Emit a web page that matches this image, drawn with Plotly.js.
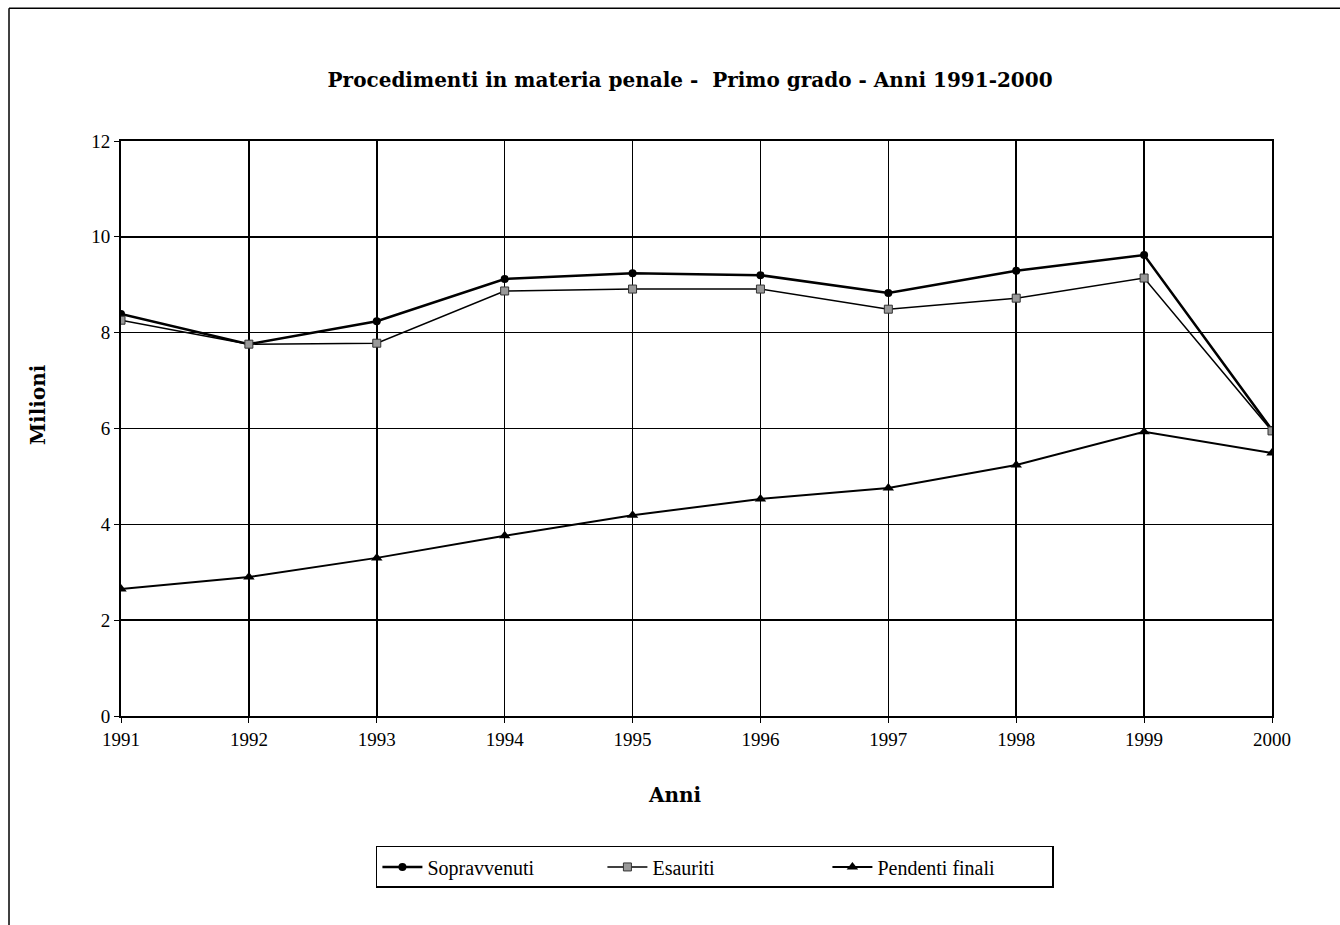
<!DOCTYPE html>
<html>
<head>
<meta charset="utf-8">
<script src="https://cdn.plot.ly/plotly-3.0.1.min.js"></script>
<style>html,body{margin:0;padding:0;background:#fff;}#chart{width:1340px;height:925px;}</style>
</head>
<body>
<div id="chart"></div>
<script>
const anni = [1991, 1992, 1993, 1994, 1995, 1996, 1997, 1998, 1999, 2000];
const sopravvenuti = [8.39, 7.76, 8.24, 9.12, 9.24, 9.20, 8.83, 9.29, 9.62, 5.97];
const esauriti = [8.26, 7.76, 7.78, 8.87, 8.91, 8.91, 8.49, 8.72, 9.14, 5.95];
const pendentiFinali = [2.65, 2.90, 3.30, 3.76, 4.19, 4.53, 4.76, 5.24, 5.93, 5.49];
const yTicks = [0, 2, 4, 6, 8, 10, 12];

const font = 'Liberation Serif, Times New Roman, serif';
const tfont = 'DejaVu Serif, serif';
const traces = [
  {x: anni, y: sopravvenuti, name: 'Sopravvenuti', mode: 'lines+markers',
   line: {color: '#000', width: 2.5}, marker: {symbol: 'circle', size: 8, color: '#000'}},
  {x: anni, y: esauriti, name: 'Esauriti', mode: 'lines+markers',
   line: {color: '#000', width: 1.5}, marker: {symbol: 'square', size: 8, color: '#999', line: {color: '#333', width: 1}}},
  {x: anni, y: pendentiFinali, name: 'Pendenti finali', mode: 'lines+markers',
   line: {color: '#000', width: 2}, marker: {symbol: 'triangle-up', size: 10, color: '#000'}}
];

const layout = {
  width: 1340, height: 925,
  paper_bgcolor: '#fff', plot_bgcolor: '#fff',
  margin: {l: 121, r: 68, t: 141, b: 209},
  font: {family: font, color: '#000', size: 19},
  title: {text: '<b>Procedimenti in materia penale -  Primo grado - Anni 1991-2000</b>',
          font: {family: tfont, size: 20, color: '#000'}, x: 0.515, xanchor: 'center', y: 0.913, yanchor: 'middle'},
  xaxis: {range: [1991, 2000], tickvals: anni, ticktext: anni.map(String),
          showgrid: true, gridcolor: '#000', gridwidth: 1.5, zeroline: false,
          showline: true, linecolor: '#000', linewidth: 2, mirror: true,
          ticks: 'outside', ticklen: 5, tickcolor: '#000',
          tickfont: {family: font, size: 19}},
  yaxis: {range: [0, 12], tickvals: yTicks, ticktext: yTicks.map(String),
          showgrid: true, gridcolor: '#000', gridwidth: 1.5, zeroline: false,
          showline: true, linecolor: '#000', linewidth: 2, mirror: true,
          ticks: 'outside', ticklen: 5, tickcolor: '#000',
          tickfont: {family: font, size: 19}},
  annotations: [
    {text: '<b>Anni</b>', xref: 'paper', yref: 'paper', x: 0.481, y: -0.138, xanchor: 'center', yanchor: 'middle',
     showarrow: false, font: {family: tfont, size: 20}},
    {text: '<b>Milioni</b>', xref: 'paper', yref: 'paper', x: -0.072, y: 0.541, xanchor: 'center', yanchor: 'middle',
     textangle: -90, showarrow: false, font: {family: tfont, size: 20}}
  ],
  legend: {orientation: 'h', x: 0.516, xanchor: 'center', y: -0.226, yanchor: 'top',
           bordercolor: '#000', borderwidth: 1.5, font: {family: font, size: 20},
           entrywidth: 170, itemwidth: 40, tracegroupgap: 0},
  showlegend: true,
  shapes: [
    {type: 'line', xref: 'paper', yref: 'paper', x0: -0.0973, x1: 1.06, y0: 1.231, y1: 1.231, line: {color: '#000', width: 1.5}},
    {type: 'line', xref: 'paper', yref: 'paper', x0: -0.0973, x1: -0.0973, y0: 1.231, y1: -0.37, line: {color: '#000', width: 1.5}}
  ]
};

Plotly.newPlot('chart', traces, layout, {displayModeBar: false, staticPlot: true});
</script>
</body>
</html>
